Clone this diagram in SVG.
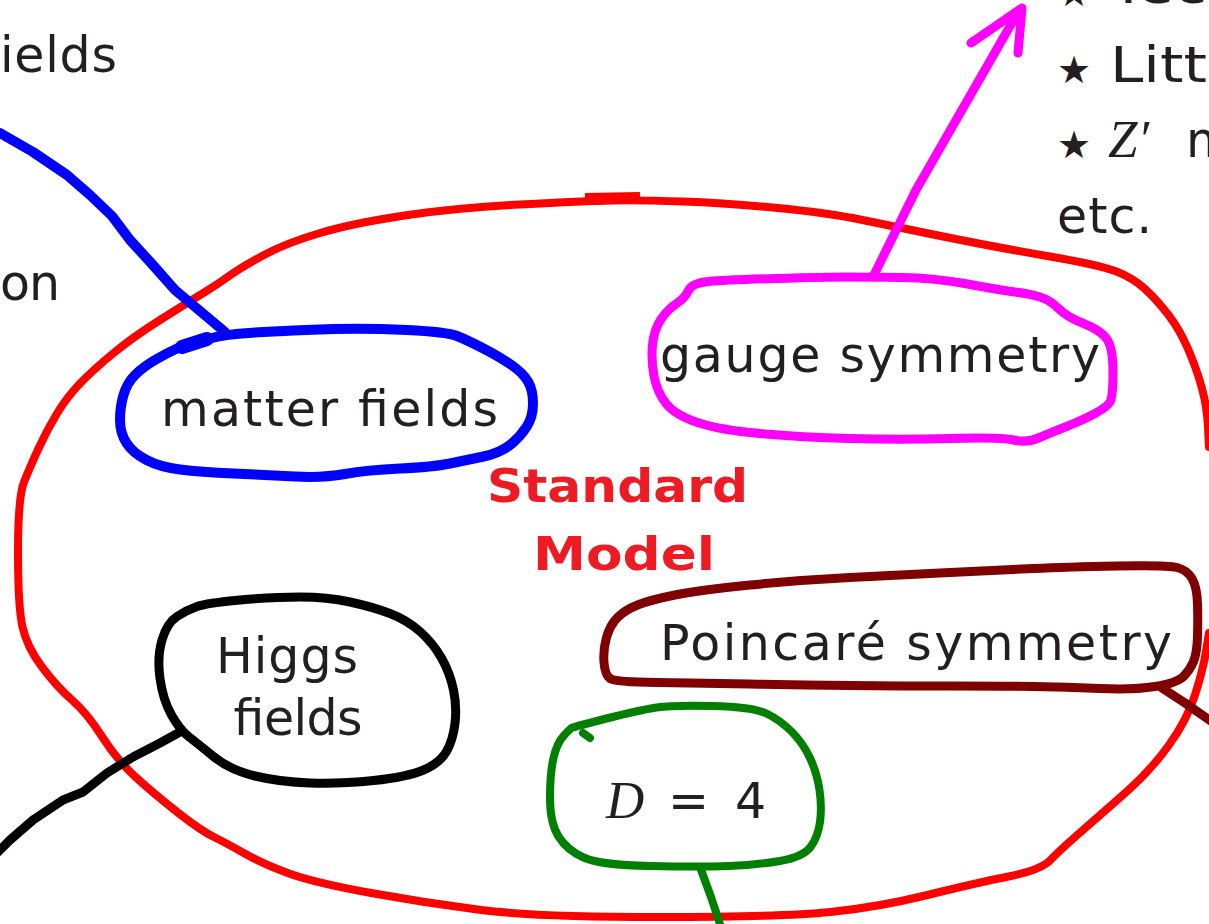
<svg xmlns="http://www.w3.org/2000/svg" width="1209" height="924" viewBox="0 0 1209 924">
  <style>
    .stroke { fill: none; stroke-linecap: round; stroke-linejoin: round; }
    .red { stroke: #ff0000; stroke-width: 8; }
    .blue { stroke: #0000ff; stroke-width: 10; }
    .magenta { stroke: #ff00ff; stroke-width: 9; }
    .black { stroke: #000000; stroke-width: 9; }
    .green { stroke: #007f00; stroke-width: 8; }
    .maroon { stroke: #7f0000; stroke-width: 9; }
    .lbl { font-family: "DejaVu Sans", "Liberation Sans", sans-serif; font-size: 49px; fill: #231f20; }
    .math { font-family: "Liberation Serif", "DejaVu Serif", serif; font-style: italic; font-size: 53px; fill: #231f20; }
    .title { font-family: "DejaVu Sans", "Liberation Sans", sans-serif; font-weight: bold; font-size: 46px; fill: #ed1c24; }
    .star { font-family: "DejaVu Sans", sans-serif; font-size: 38px; fill: #231f20; }
  </style>

  <rect width="1209" height="924" fill="#ffffff"/>

  <!-- side texts that continue beyond the frame -->
  <g id="side-text">
    <text class="lbl" x="0" y="72" textLength="117" lengthAdjust="spacing">ields</text>
    <text class="lbl" x="0" y="300" textLength="60" lengthAdjust="spacing">on</text>
    <text class="star" x="1057" y="6">★</text>
    <text class="lbl" x="1110" y="3" textLength="97" lengthAdjust="spacingAndGlyphs">Tec</text>
    <text class="star" x="1057" y="83">★</text>
    <text class="lbl" x="1110" y="82" textLength="97" lengthAdjust="spacingAndGlyphs">Litt</text>
    <text class="star" x="1057" y="158">★</text>
    <text class="math" x="1108" y="157">Z′</text>
    <text class="lbl" x="1186" y="157">m</text>
    <text class="lbl" x="1057" y="233" textLength="95" lengthAdjust="spacing">etc.</text>
  </g>

  <!-- Standard Model outline -->
  <g id="standard-model">
    <path class="stroke red" d="M1209 447 L1208 427 Q1207 407 1202 388.5 Q1197 370 1188.5 350 Q1180 330 1168.5 315 Q1157 300 1145 289 Q1133 278 1116.5 271.5 Q1100 265 1050 256.5 Q1000 248 948 237.5 Q896 227 862.5 220 Q829 213 778 208 Q727 203 683.5 201.5 Q640 200 612.5 200.5 Q585 201 520 204.5 Q455 208 404.5 215.5 Q354 223 320 233 Q286 243 263 255.5 Q240 268 229 276 Q218 284 202.5 293.5 Q187 303 160 320 Q133 337 113 353.5 Q93 370 80 383.5 Q67 397 57 413.5 Q47 430 38.5 448.5 Q30 467 24 482 Q18 497 18 552 Q18 607 22.5 627 Q27 647 42 667 Q57 687 72 700 Q87 713 102 736.5 Q117 760 135 776.5 Q153 793 176.5 811.5 Q200 830 213 836.5 Q226 843 245.5 854 Q265 865 290.5 874 Q316 883 371 893 Q426 903 481 910 Q536 917 659 917 Q782 917 830.5 912 Q879 907 927.5 895 Q976 883 1008.5 876.5 Q1041 870 1050.5 860 Q1060 850 1083 830 Q1106 810 1128.5 790 Q1151 770 1169 745 Q1187 720 1195 695 Q1203 670 1206 651.5 L1209 633"/>
    <path d="M585 198 L640 197" stroke="#ff0000" stroke-width="10" fill="none"/>
    <text class="title" x="487" y="502" textLength="261" lengthAdjust="spacingAndGlyphs">Standard</text>
    <text class="title" x="533" y="570" textLength="182" lengthAdjust="spacingAndGlyphs">Model</text>
  </g>

  <!-- connectors -->
  <g id="connectors">
    <path class="stroke blue" d="M0 133 L33 152 L67 175 L90 195 L112 216 L130 240 L152 264 L175 290 L200 311 L225 332"/>
    <path class="stroke magenta" d="M873 277 L916 190 L1017 14"/>
    <path class="stroke magenta" stroke-width="10" d="M971 43 L1022 8 L1018 53"/>
    <path class="stroke black" d="M180 732 L160 743 L133 757 L107 773 L83 792 L63 800 L33 820 L10 840 L-5 855"/>
    <path class="stroke green" stroke-width="7" d="M700 867 L711 897 L722 930"/>
    <path class="stroke maroon" d="M1162 688 L1185 703 L1215 724"/>
  </g>

  <!-- matter fields -->
  <g id="matter-fields">
    <path class="stroke blue" d="M216 337 Q227 334 263.5 332 Q300 330 333.5 329 Q367 328 407 330 Q447 332 457 336 Q467 340 483.5 348.5 Q500 357 511.5 365 Q523 373 528 381.5 Q533 390 533 403.5 Q533 417 526.5 427 Q520 437 510 445 Q500 453 483.5 456.5 Q467 460 450 463.5 Q433 467 400 468.5 Q367 470 345 474 Q323 478 295 476.5 Q267 475 233.5 473.5 Q200 472 180 469.5 Q160 467 146.5 460 Q133 453 126.5 443 Q120 433 120 420 Q120 407 123.5 395 Q127 383 135 375 Q143 367 155 360 Q167 353 177 348.5 Q187 344 196 342 Q205 340 216 337 Z"/>
    <path d="M182 347 L207 339" stroke="#0000ff" stroke-width="14" stroke-linecap="round" fill="none"/>
    <text class="lbl" x="161" y="426" textLength="337" lengthAdjust="spacing">matter fields</text>
  </g>

  <!-- gauge symmetry -->
  <g id="gauge-symmetry">
    <path class="stroke magenta" d="M688.5 290.5 Q692 283 708.5 281.5 Q725 280 776 278.5 Q827 277 847.5 277 Q868 277 901.5 277.5 Q935 278 967.5 284 Q1000 290 1015 292 Q1030 294 1040 297 Q1050 300 1058.5 308.5 Q1067 317 1083.5 323.5 Q1100 330 1106.5 338.5 Q1113 347 1113 372 Q1113 397 1110 402 Q1107 407 1095 413.5 Q1083 420 1066.5 426.5 Q1050 433 1038.5 438 Q1027 443 1013.5 440 Q1000 437 950 438.5 Q900 440 850 438.5 Q800 437 760 433.5 Q720 430 697.5 422.5 Q675 415 666 403.5 Q657 392 654 376 Q651 360 652.5 345 Q654 330 660.5 320 Q667 310 676 304 Q685 298 688.5 290.5 Z"/>
    <text class="lbl" x="660" y="372" textLength="440" lengthAdjust="spacing">gauge symmetry</text>
  </g>

  <!-- Higgs fields -->
  <g id="higgs-fields">
    <path class="stroke black" d="M197 606.5 Q207 603 240 600 Q273 597 300 597 Q327 597 350 602 Q373 607 390 613.5 Q407 620 420 631.5 Q433 643 441.5 658 Q450 673 453.5 690 Q457 707 455 723.5 Q453 740 446.5 751.5 Q440 763 423.5 770 Q407 777 373.5 780.5 Q340 784 310 783 Q280 782 255 776 Q230 770 213.5 756.5 Q197 743 188.5 736.5 Q180 730 171.5 715 Q163 700 160 678.5 Q157 657 162 640 Q167 623 177 616.5 Q187 610 197 606.5 Z"/>
    <text class="lbl" x="216" y="673" textLength="142" lengthAdjust="spacing">Higgs</text>
    <text class="lbl" x="233" y="735" textLength="129" lengthAdjust="spacing">fields</text>
  </g>

  <!-- Poincaré symmetry -->
  <g id="poincare-symmetry">
    <path class="stroke maroon" d="M617.5 617.5 Q625 610 637.5 605 Q650 600 675 595 Q700 590 750 585 Q800 580 850 577.5 Q900 575 950 572.5 Q1000 570 1033.5 568.5 Q1067 567 1117 566 Q1167 565 1177 567.5 Q1187 570 1192 578.5 Q1197 587 1197.5 603.5 Q1198 620 1197.5 636.5 Q1197 653 1193.5 661.5 Q1190 670 1183.5 676.5 Q1177 683 1155 686.5 Q1133 690 1100 688.5 Q1067 687 1033.5 686.5 Q1000 686 950 686 Q900 686 850 685.5 Q800 685 750 684 Q700 683 657.5 682.5 Q615 682 610 678.5 Q605 675 604 662.5 Q603 650 606.5 637.5 Q610 625 617.5 617.5 Z"/>
    <text class="lbl" x="660" y="660" textLength="512" lengthAdjust="spacing">Poincaré symmetry</text>
  </g>

  <!-- D = 4 -->
  <g id="dimension">
    <path class="stroke green" d="M571.5 728 Q573 727 606.5 718.5 Q640 710 656.5 707.5 Q673 705 713 706 Q753 707 766.5 713.5 Q780 720 791.5 731.5 Q803 743 810 758 Q817 773 819.5 790 Q822 807 820 822 Q818 837 810.5 847 Q803 857 780 861 Q757 865 728.5 866 Q700 867 650 866 Q600 865 583.5 857.5 Q567 850 558.5 836.5 Q550 823 550 798 Q550 773 553.5 758 Q557 743 563.5 736 Q570 729 571.5 728 Z"/>
    <path d="M583 733 L590 738" stroke="#007f00" stroke-width="8" stroke-linecap="round" fill="none"/>
    <text class="math" x="606" y="818">D</text>
    <text class="lbl" x="668" y="818">=</text>
    <text class="lbl" x="735" y="818">4</text>
  </g>
</svg>
